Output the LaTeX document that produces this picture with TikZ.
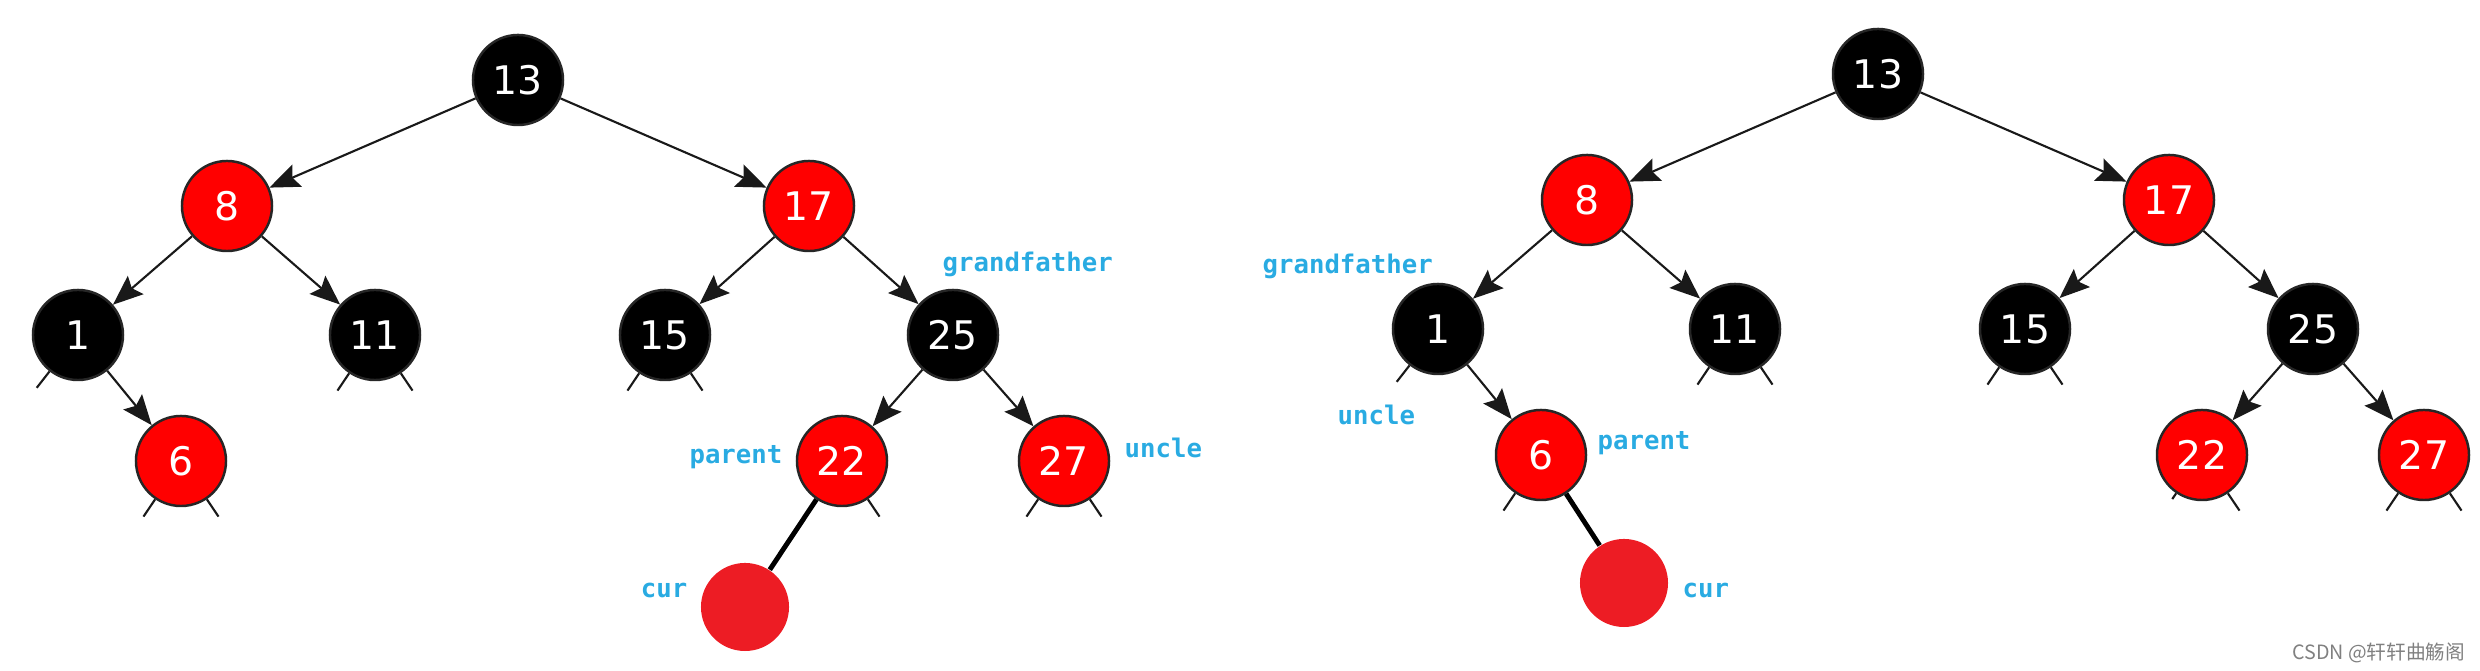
\documentclass[tikz,border=0pt]{standalone}
\usepackage{fontspec}
\newfontfamily\numfont{DejaVu Sans}
\newfontfamily\tagfont{DejaVu Sans Mono}
\newfontfamily\cjkfont{Noto Sans CJK SC}
\usetikzlibrary{arrows.meta,calc}
\definecolor{rbred}{HTML}{FF0000}
\definecolor{curred}{HTML}{ED1C24}
\definecolor{tagblue}{HTML}{29ABE2}
\begin{document}
\begin{tikzpicture}[x=0.01cm,y=-0.01cm,
  rb/.style={circle,draw=black!85,line width=0.7pt,minimum size=0.9cm,inner sep=0pt,text=white,font=\numfont\fontsize{11.2}{13}\selectfont},
  rednode/.style={rb,fill=rbred},
  blacknode/.style={rb,fill=black},
  curnode/.style={circle,fill=curred,minimum size=0.88cm,inner sep=0pt},
  tag/.style={text=tagblue,inner sep=0pt,font=\tagfont\bfseries\fontsize{7.3}{9}\selectfont},
  link/.style={-{Stealth[length=0.3cm,width=0.24cm,inset=0.05cm]},line width=0.6pt,draw=black!90},
  nil/.style={line width=0.6pt,draw=black!90}]
  \useasboundingbox (0,0) rectangle (2480,671);
  % the same tree twice, the right one shifted
  \foreach \t/\dx/\dy in {L/0/0,R/1360/-6}{
    \begin{scope}[shift={(\dx,\dy)}]
      \node[blacknode] (\t13) at (518,80) {13};
      \node[rednode] (\t8) at (227,206) {8};
      \node[rednode] (\t17) at (809,206) {17};
      \node[blacknode] (\t1) at (78,335) {1};
      \node[blacknode] (\t11) at (375,335) {11};
      \node[blacknode] (\t15) at (665,335) {15};
      \node[blacknode] (\t25) at (953,335) {25};
      \node[rednode] (\t6) at (181,461) {6};
      \node[rednode] (\t22) at (842,461) {22};
      \node[rednode] (\t27) at (1064,461) {27};
    \end{scope}
    \foreach \a/\b in {13/8,13/17,8/1,8/11,17/15,17/25,1/6,25/22,25/27}
      \draw[link] (\t\a) -- (\t\b);
    % empty children
    \foreach \n/\w in {1/-128,11/-124,11/-56,15/-124,15/-56,6/-124,22/-56,27/-124,27/-56}
      \draw[nil] (\t\n.\w) -- ($(\t\n.center)!1.45!(\t\n.\w)$);
  }
  \draw[nil] (L6.-56) -- ($(L6.center)!1.45!(L6.-56)$);
  \draw[nil] (R22.-124) -- ($(R22.center)!1.15!(R22.-124)$);
  % inserted node
  \node[curnode] (Lcur) at (745,607) {};
  \node[curnode] (Rcur) at (1624,583) {};
  \draw[line width=1.4pt] (L22) -- (Lcur);
  \draw[line width=1.4pt] (R6) -- (Rcur);
  % labels
  \node[tag,anchor=mid west] (Lgrand) at (942,264) {grandfather};
  \node[tag,anchor=mid east] (Lparent) at (783,456) {parent};
  \node[tag,anchor=mid west] (Luncle) at (1124,450) {uncle};
  \node[tag,anchor=mid east] (Lcurtag) at (688,590) {cur};
  \node[tag,anchor=mid west] (Rgrand) at (1262,266) {grandfather};
  \node[tag,anchor=mid west] (Runcle) at (1337,417) {uncle};
  \node[tag,anchor=mid west] (Rparent) at (1597,442) {parent};
  \node[tag,anchor=mid west] (Rcurtag) at (1682,590) {cur};
  \node[anchor=mid east,inner sep=0pt,text=black!50,font=\cjkfont\fontsize{5.6}{7}\selectfont] (mark) at (2466,652) {CSDN @轩轩曲觞阁};
\end{tikzpicture}
\end{document}
